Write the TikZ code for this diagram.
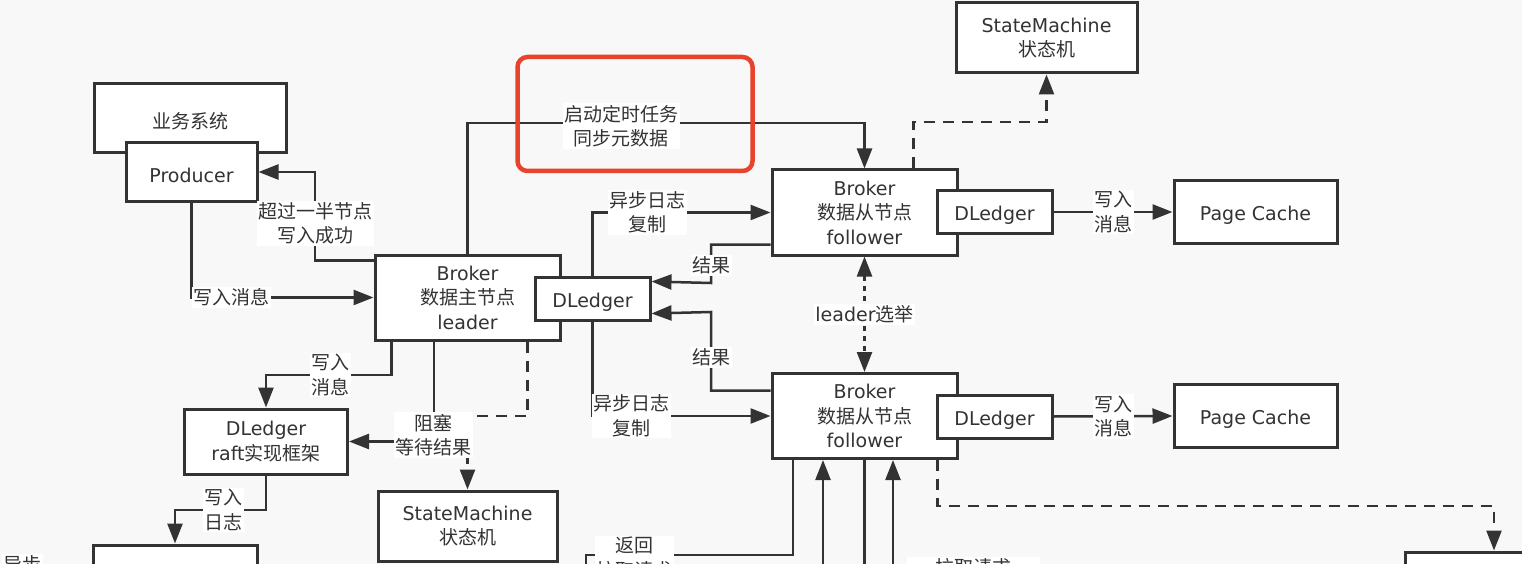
\documentclass[tikz,border=0pt]{standalone}
\usepackage{fontspec}
\setmainfont{DejaVu Sans}
\newfontfamily\cjk{Noto Sans CJK SC}
\newcommand\zh[1]{{\cjk #1}}
\usetikzlibrary{arrows.meta}
\definecolor{ink}{HTML}{333333}
\definecolor{mark}{HTML}{E8432D}
\definecolor{paper}{HTML}{F8F8F8}
\tikzset{
  >={Triangle[length=20pt,width=15pt]},
  box/.style={draw=ink,line width=3pt,fill=white,align=center,inner sep=0pt,
    execute at begin node={\rule{0pt}{21pt}}},
  lbl/.style={fill=white,align=center,inner sep=1.5pt},
  wire/.style={draw=ink,line width=2.5pt},
  arr/.style={wire,->},
  dashwire/.style={wire,dash pattern=on 11pt off 8pt},
  dotwire/.style={wire,dash pattern=on 5pt off 5pt}
}
\begin{document}
\begin{tikzpicture}[x=1pt,y=-1pt,font=\fontsize{19}{24.5}\selectfont,text=ink]
      \useasboundingbox (0,0) rectangle (1522,564);
      \fill[paper] (0,0) rectangle (1522,564);
      \clip (0,0) rectangle (1522,564);
      \node[box,minimum width=192pt,minimum height=69pt] (biz) at (190,118.5) {\zh{业务系统}};
      \node[box,minimum width=131pt,minimum height=58pt] (prod) at (191.5,172) {Producer};
      \node[box,minimum width=185pt,minimum height=85pt] (leader) at (467.5,297.5) {Broker\\\zh{数据主节点}\\leader};
      \node[box,minimum width=115pt,minimum height=43pt] (ldl) at (592.5,299) {DLedger};
      \node[box,minimum width=181pt,minimum height=70pt] (sm1) at (1046.5,38) {StateMachine\\\zh{状态机}};
      \node[box,minimum width=185pt,minimum height=85pt] (f1) at (864.5,212.5) {Broker\\\zh{数据从节点}\\follower};
      \node[box,minimum width=115pt,minimum height=43pt] (fdl1) at (994.5,212) {DLedger};
      \node[box,minimum width=163pt,minimum height=63pt] (pc1) at (1255.5,212) {Page Cache};
      \node[box,minimum width=185pt,minimum height=85pt] (f2) at (864.5,416) {Broker\\\zh{数据从节点}\\follower};
      \node[box,minimum width=115pt,minimum height=43pt] (fdl2) at (994.5,416.5) {DLedger};
      \node[box,minimum width=163pt,minimum height=63pt] (pc2) at (1255.5,416) {Page Cache};
      \node[box,minimum width=163pt,minimum height=65pt] (raft) at (266,441.5) {DLedger\\raft\zh{实现框架}};
      \node[box,minimum width=179pt,minimum height=70pt] (sm2) at (467.5,526) {StateMachine\\\zh{状态机}};
      \node[box,minimum width=164pt,minimum height=110pt] (store) at (175,600) {};
      \node[box,minimum width=178pt,minimum height=110pt] (far) at (1494,607) {};
      \coordinate (retend) at (586,600);
      \coordinate (up1) at (823,600);
      \coordinate (down1) at (864.5,600);
      \coordinate (up2) at (893,600);
      \begin{scope}
        \draw[arr] (prod.south) |- node[lbl,pos=0.61]{\zh{写入消息}} (leader.west);
        \draw[arr] ([yshift=-7pt]leader.north west) -| node[lbl,pos=0.71]{\zh{超过一半节点}\\\zh{写入成功}} (315,172) -- (prod.east);
        \draw[arr] (leader.north) |- (864.5,123) -- (f1.north);
        \draw[arr] (ldl.north) |- node[lbl,pos=0.655]{\zh{异步日志}\\\zh{复制}} (f1.west);
        \draw[arr] ([yshift=12pt]f1.south west) -| node[lbl,pos=0.775]{\zh{结果}} (711,283) -- ([yshift=-5.5pt]ldl.north east);
        \draw[arr] ([yshift=-18.5pt]f2.north west) -| node[lbl,pos=0.71]{\zh{结果}} (711,312) -- ([yshift=8.5pt]ldl.south east);
        \draw[arr] (ldl.south) |- node[lbl,pos=0.61]{\zh{异步日志}\\\zh{复制}} (f2.west);
        \draw[arr] ([xshift=18pt]leader.south west) |- node[lbl,pos=0.745]{\zh{写入}\\\zh{消息}} (266,375) -- (raft.north);
        \draw[arr] ([xshift=-33.5pt]leader.south) |- (raft.east);
        \draw[dashwire,->] ([xshift=-34pt]leader.south east) |- (467.5,416) -- (sm2.north);
        \draw[arr] (raft.south) |- node[lbl,pos=0.735]{\zh{写入}\\\zh{日志}} (175,510) -- (store.north);
        \draw[arr] (fdl1.east) -- node[lbl]{\zh{写入}\\\zh{消息}} (pc1.west);
        \draw[arr] (fdl2.east) -- node[lbl]{\zh{写入}\\\zh{消息}} (pc2.west);
        \draw[dashwire,->] ([xshift=-45pt]f1.north east) |- (1046.5,122) -- (sm1.south);
        \draw[dotwire,<->] (f1.south) -- node[lbl]{leader\zh{选举}} (f2.north);
        \draw[wire] ([xshift=-71.5pt]f2.south) |- (586,555) -- (retend);
        \draw[arr] (up1) -- ([xshift=-41.5pt]f2.south);
        \draw[wire] (f2.south) -- (down1);
        \draw[arr] (up2) -- ([xshift=28.5pt]f2.south);
        \draw[dashwire,->] ([xshift=-21pt]f2.south east) |- (1494,506) -- (far.north);
      \end{scope}
      \node[draw=mark,line width=4.5pt,rounded corners=10pt,minimum width=235pt,minimum height=114pt] (hl) at (635,114) {};
      \node[lbl] (sync) at (621,126) {\zh{启动定时任务}\\\zh{同步元数据}};
      \node[lbl] (wait) at (433,435) {\zh{阻塞}\\\zh{等待结果}};
      \node[lbl] (ret) at (634,558) {\zh{返回}\\\zh{拉取请求}};
      \node[lbl,anchor=north,minimum width=133pt] (pull) at (973,557) {\zh{拉取请求}};
      \node[lbl,anchor=north] (async) at (22,554) {\zh{异步}};
    \end{tikzpicture}
\end{document}
